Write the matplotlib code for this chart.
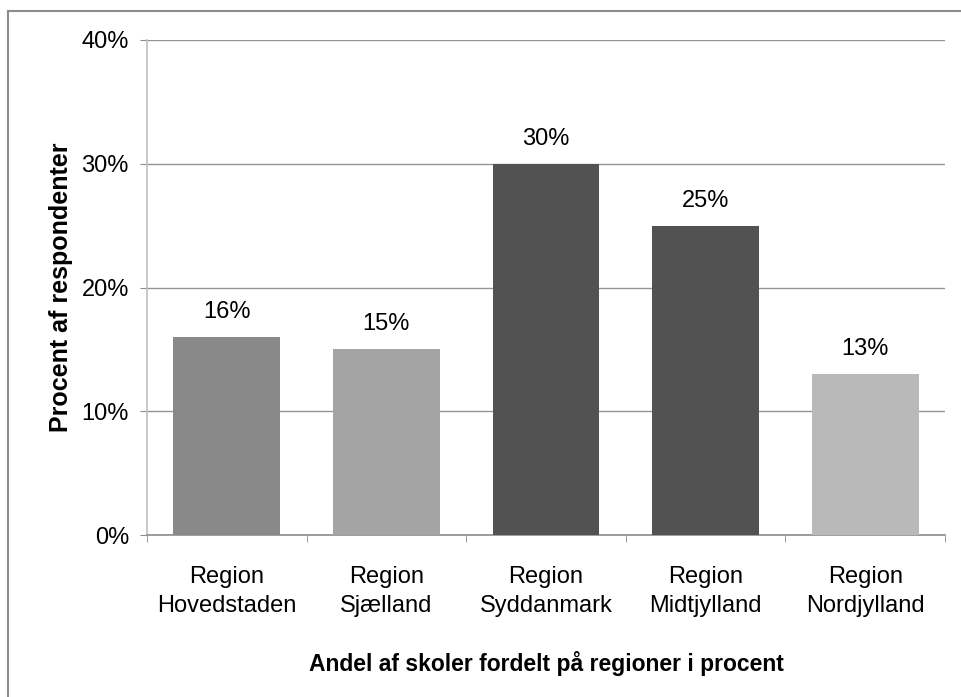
import matplotlib
matplotlib.use("Agg")
import matplotlib.pyplot as plt
from matplotlib.patches import Rectangle
from matplotlib.ticker import PercentFormatter

# Data
regions = ["Region\nHovedstaden", "Region\nSjælland", "Region\nSyddanmark",
           "Region\nMidtjylland", "Region\nNordjylland"]
shares = [16, 15, 30, 25, 13]
bar_colors = ["#898989", "#a4a4a4", "#525252", "#525252", "#b9b9b9"]
y_ticks = [0, 10, 20, 30, 40]

plt.rcParams["font.family"] = ["Liberation Sans", "DejaVu Sans"]

fig = plt.figure(figsize=(9.61, 6.97), dpi=100)
ax = fig.add_axes([147 / 961, 1 - 535 / 697, (945 - 147) / 961, (535 - 40) / 697])

x = range(len(regions))
bars = ax.bar(x, shares, width=0.67, color=bar_colors, zorder=3)

# value labels
for b, v in zip(bars, shares):
    ax.annotate(f"{v}%", (b.get_x() + b.get_width() / 2, b.get_height()),
                xytext=(0, 10), textcoords="offset points",
                ha="center", va="bottom", fontsize=17)

ax.set_xlim(-0.5, len(regions) - 0.5)
ax.set_ylim(0, 40)
ax.set_yticks(y_ticks)
ax.yaxis.set_major_formatter(PercentFormatter(decimals=0))
ax.grid(axis="y", color="#959595", linewidth=1, zorder=0)

ax.set_xticks(list(x))
ax.set_xticklabels(regions, fontsize=17, linespacing=1.45)
ax.set_xticks([i - 0.5 for i in range(len(regions) + 1)], minor=True)
ax.tick_params(axis="x", which="major", length=0, pad=22)
ax.tick_params(axis="x", which="minor", length=5, color="#8c8c8c")
ax.tick_params(axis="y", length=5, color="#8c8c8c", pad=8, labelsize=17)

for s in ["top", "right"]:
    ax.spines[s].set_visible(False)
ax.spines["left"].set_color("#bfbfbf")
ax.spines["bottom"].set_color("#8c8c8c")
ax.spines["left"].set_linewidth(1.2)
ax.spines["bottom"].set_linewidth(1.2)

ax.set_ylabel("Procent af respondenter", fontsize=18, fontweight="bold", labelpad=6)
ax.set_xlabel("Andel af skoler fordelt på regioner i procent", fontsize=16.5,
              fontweight="bold", labelpad=24)

# outer border of the chart area
fig.patches.append(Rectangle((8 / 961, -0.1), 1.2, 1 - 11 / 697 + 0.1,
                             transform=fig.transFigure, fill=False,
                             edgecolor="#8c8c8c", linewidth=1.5))

plt.savefig("out.png", dpi=100)
